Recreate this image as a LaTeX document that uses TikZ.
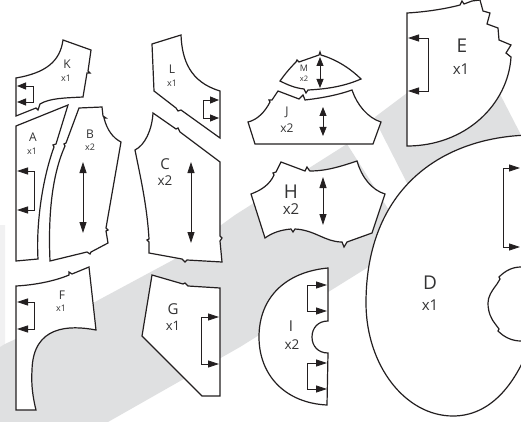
\documentclass[tikz,border=0pt]{standalone}
\usepackage{fontspec}
\setmainfont{Open Sans}
\usetikzlibrary{arrows.meta}
\definecolor{ink}{HTML}{231F20}
\definecolor{band}{HTML}{DFE0E1}
\definecolor{faint}{HTML}{F1F1F2}
\definecolor{txt}{HTML}{333334}
\tikzset{
  piece/.style={draw=ink,fill=white,line width=1.2pt,line join=miter},
  guide/.style={draw=ink,line width=0.8pt,{Triangle[length=11pt,width=7pt]}-{Triangle[length=11pt,width=7pt]}},
  shortguide/.style={draw=ink,line width=0.8pt,{Triangle[length=9pt,width=7pt]}-{Triangle[length=9pt,width=7pt]}},
  lbig/.style={text=txt,font=\fontsize{19}{19}\selectfont,inner sep=0pt},
  lmid/.style={text=txt,font=\fontsize{15}{15}\selectfont,inner sep=0pt},
  lsmall/.style={text=txt,font=\fontsize{12}{12}\selectfont,inner sep=0pt},
  ltiny/.style={text=txt,font=\fontsize{9}{9}\selectfont,inner sep=0pt},
  ltinier/.style={text=txt,font=\fontsize{7.5}{7.5}\selectfont,inner sep=0pt},
}
\begin{document}
\begin{tikzpicture}[x=1pt,y=-1pt]
\clip (0,0) rectangle (521,422);
\fill[white] (0,0) rectangle (521,422);
% background
\fill[faint] (0,225) -- (5,225) -- (5,345) -- (0,347) -- cycle;
\fill[band] (0,347) -- (5,344) -- (93,303) -- (173,260) -- (235,215) -- (347,144) -- (392,215) -- (400,240) -- (370,266) -- (240,347) -- (108,422) -- (0,422) -- cycle;
\fill[band] (375,117) -- (407,93) -- (495,85) -- (503,100) -- (521,135) -- (521,150) -- (430,190) -- (408,185) -- (380,130) -- cycle;
% K
\draw[piece] (63,40) -- (91,50) -- (88,71) -- (90,73) -- (87,73) -- (83,97) .. controls (65,98) and (50,98) .. (40,104) -- (39,107) -- (38,110) -- (36,108) -- (16,116) -- (16,78) .. controls (45,73) and (60,62) .. cycle;
\draw[shortguide] (17,86) -- (33,86) -- (33,102) -- (17,102);
\node[lsmall] (kK) at (67,64) {K};
\node[ltiny] (kx) at (66,78) {x1};
% A
\draw[piece] (16,126) -- (68,105) -- (56,144) -- (53,145) -- (54,147) .. controls (42,180) and (36,225) .. (38,259) -- (16,261) -- cycle;
\draw[guide] (17,171) -- (34,171) -- (34,210) -- (17,210);
\node[lsmall] (aA) at (33,137) {A};
\node[ltiny] (ax) at (32,151) {x1};
% B
\draw[piece] (79,108) -- (102,107) -- (103,116) -- (106,118) -- (104,118) .. controls (107,130) and (113,138) .. (121,142) -- (106,228) -- (108,230) -- (106,231) -- (108,243) -- (91,252) -- (90,254) -- (87,252) -- (50,261) .. controls (48,215) and (52,175) .. (65,146) -- (64,144) -- (66,143) -- cycle;
\draw[guide] (83,162) -- (83,233);
\node[lsmall] (bB) at (90,134) {B};
\node[ltiny] (bx) at (90,147) {x2};
% L
\draw[piece] (152,44) -- (181,35) .. controls (182,60) and (190,82) .. (220,91) -- (220,138) -- (181,110) -- (178,111) -- (176,108) -- (154,91) -- cycle;
\draw[shortguide] (219,100) -- (203,100) -- (203,118) -- (219,118);
\node[lsmall] (lL) at (172,69) {L};
\node[ltiny] (lx) at (172,83) {x1};
% C
\draw[piece] (153,113) -- (176,129) -- (178,128) -- (180,132) -- (220,162) -- (220,236) -- (222,238) -- (220,241) -- (222,262) -- (187,260) -- (185,262) -- (182,259) -- (149,253) -- (149,242) -- (147,240) -- (149,239) .. controls (147,205) and (140,175) .. (135,150) .. controls (145,145) and (152,130) .. cycle;
\draw[guide] (191,162) -- (191,243);
\node[lmid] (cC) at (165,164) {C};
\node[lsmall,font=\fontsize{13.5}{13.5}\selectfont] (cx) at (165,181) {x2};
% F
\draw[piece] (16,286) .. controls (35,285) and (55,281) .. (69,275) -- (69,272) -- (72,274) -- (89,267) -- (96,330) .. controls (70,325) and (33,325) .. (32,370) .. controls (31,385) and (33,398) .. (36,410) -- (16,410) -- cycle;
\draw[guide] (17,302) -- (34,302) -- (34,329) -- (17,329);
\node[lsmall] (fF) at (62,295) {F};
\node[ltiny] (fx) at (61,308) {x1};
% G
\draw[piece] (152,275) -- (183,284) -- (185,283) -- (188,286) -- (220,288) -- (220,396) -- (202,396) -- (142,336) -- cycle;
\draw[guide] (219,317) -- (201,317) -- (201,364) -- (219,364);
\node[lmid] (gG) at (173,309) {G};
\node[lsmall,font=\fontsize{13}{13}\selectfont] (gx) at (173,326) {x1};
% M
\draw[piece] (280,81) .. controls (285,74) and (290,68) .. (296,62) -- (297,60) -- (299,62) -- (319,55) -- (320,52) -- (321,55) .. controls (338,60) and (352,70) .. (361,79) .. controls (345,86) and (328,89) .. (308,90) -- (306,93) -- (304,89) .. controls (295,88) and (288,85) .. cycle;
\draw[shortguide] (320,57) -- (320,88);
\node[ltiny] (mM) at (304,68) {M};
\node[ltinier] (mx) at (304,79) {x2};
% J
\draw[piece] (278,91) -- (299,99) -- (303,95) -- (305,100) .. controls (322,98) and (338,95) .. (352,90) .. controls (357,105) and (368,118) .. (381,122) -- (373,144) -- (255,144) -- (248,122) .. controls (257,120) and (265,112) .. (270,102) -- (269,100) -- (272,100) -- cycle;
\draw[shortguide] (323,107) -- (323,136);
\node[lsmall] (jJ) at (287,112) {J};
\node[lsmall] (jx) at (287,128) {x2};
% H
\draw[piece] (281,162) -- (305,171) -- (307,167) -- (309,170) -- (310,171) .. controls (327,171) and (342,166) .. (357,161) .. controls (362,178) and (372,190) .. (385,194) -- (372,233) -- (347,242) -- (344,247) -- (342,242) .. controls (325,242) and (315,230) .. (295,229) -- (293,232) -- (291,229) .. controls (280,230) and (272,233) .. (265,238) -- (251,194) .. controls (262,190) and (270,184) .. (274,175) -- (273,173) -- (276,172) -- cycle;
\draw[guide] (323,177) -- (323,225);
\node[lbig] (hH) at (291,192) {H};
\node[lmid] (hx) at (291,209) {x2};
% I
\draw[piece] (328,268) -- (328,321) .. controls (318,321) and (312,328) .. (312,337) .. controls (312,346) and (318,353) .. (328,353) -- (327,405) .. controls (285,403) and (259,375) .. (259,337) .. controls (259,298) and (285,272) .. cycle;
\draw[guide] (327,285) -- (307,285) -- (307,311) -- (327,311);
\draw[guide] (327,363) -- (307,363) -- (307,389) -- (327,389);
\node[lmid] (iI) at (291,326) {I};
\node[lsmall,font=\fontsize{13.5}{13.5}\selectfont] (ix) at (292,345) {x2};
% E
\draw[piece] (407,13) .. controls (425,12) and (445,9) .. (460,5) -- (462,1) -- (464,4) -- (472,1) -- (480,0) -- (483,11) -- (490,13) -- (487,24) -- (498,28) -- (499,40) -- (511,45) -- (506,53) -- (511,57) .. controls (508,105) and (465,146) .. (407,146) -- cycle;
\draw[guide] (408,38) -- (428,38) -- (428,91) -- (408,91);
\node[lbig] (eE) at (462,46) {E};
\node[lmid] (ex) at (461,69) {x1};
% D
\draw[piece] (530,135) .. controls (440,137) and (366,190) .. (366,303) .. controls (366,365) and (405,416) .. (453,416) .. controls (490,416) and (515,385) .. (530,345) -- cycle;
\draw[piece] (530,267) -- (521,267) .. controls (512,267) and (505,271) .. (499,277) -- (500,279) -- (497,284) .. controls (491,292) and (488,297) .. (488,303) .. controls (488,312) and (491,319) .. (496,325) -- (499,329) -- (498,331) .. controls (505,338) and (513,341) .. (521,341) -- (530,341);
\draw[guide] (520,168) -- (503,168) -- (503,247) -- (520,247);
\node[lbig] (dD) at (430,283) {D};
\node[lmid] (dx) at (430,305) {x1};
\end{tikzpicture}
\end{document}
